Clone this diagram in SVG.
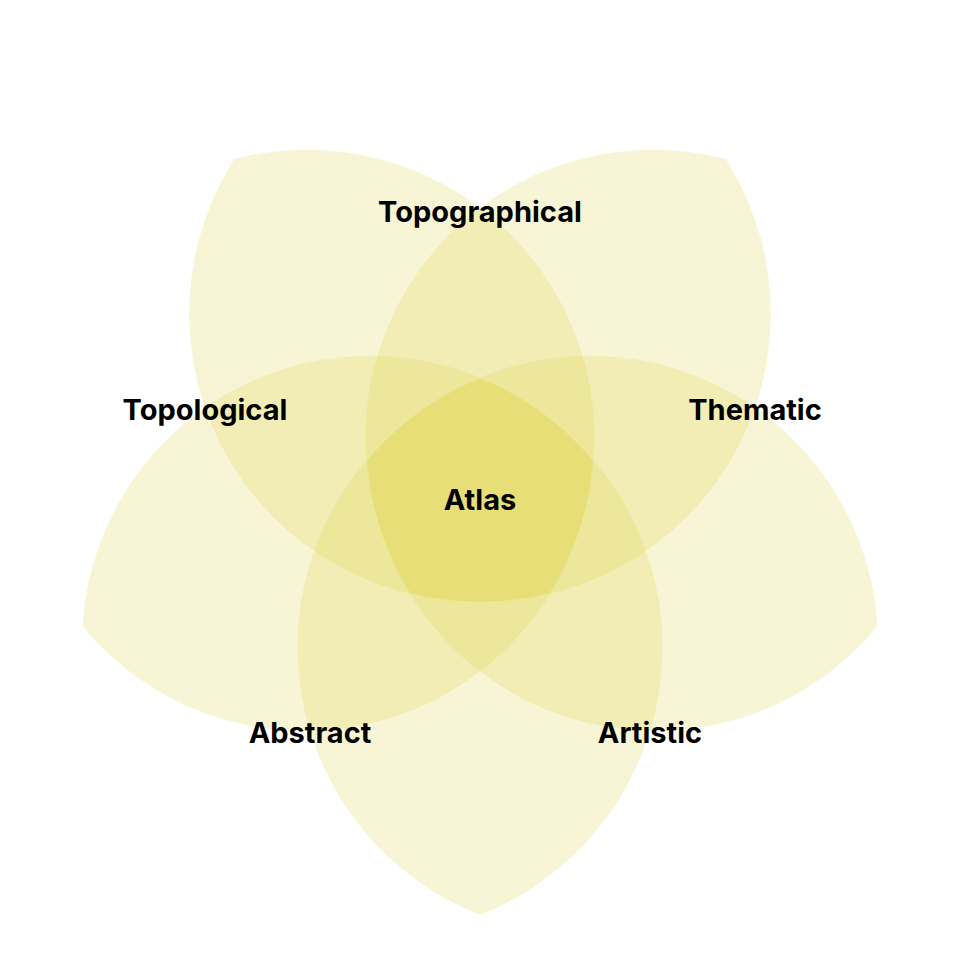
<svg xmlns="http://www.w3.org/2000/svg" width="960" height="965" viewBox="0 0 960 965">
<style>
.p{fill:#dcd23c;fill-opacity:0.21}
text{font-family:Inter,"Liberation Sans",sans-serif;font-weight:700;font-size:29px;fill:#000;text-anchor:middle;dominant-baseline:central}
</style>
<defs><path id="petal" d="M0,-118 A288,288 0 0 1 0,418 A288,288 0 0 1 0,-118 Z"/></defs>
<rect width="960" height="965" fill="#fff"/>
<g id="petals">
<use href="#petal" class="p" transform="translate(480,497)"/>
<use href="#petal" class="p" transform="translate(480,497) rotate(72)"/>
<use href="#petal" class="p" transform="translate(480,497) rotate(144)"/>
<use href="#petal" class="p" transform="translate(480,497) rotate(216)"/>
<use href="#petal" class="p" transform="translate(480,497) rotate(288)"/>
</g>
<g id="labels">
<text x="480" y="211">Topographical</text>
<text x="205" y="409">Topological</text>
<text x="755" y="409">Thematic</text>
<text x="310" y="732">Abstract</text>
<text x="650" y="732">Artistic</text>
<text x="480" y="499">Atlas</text>
</g>
</svg>
